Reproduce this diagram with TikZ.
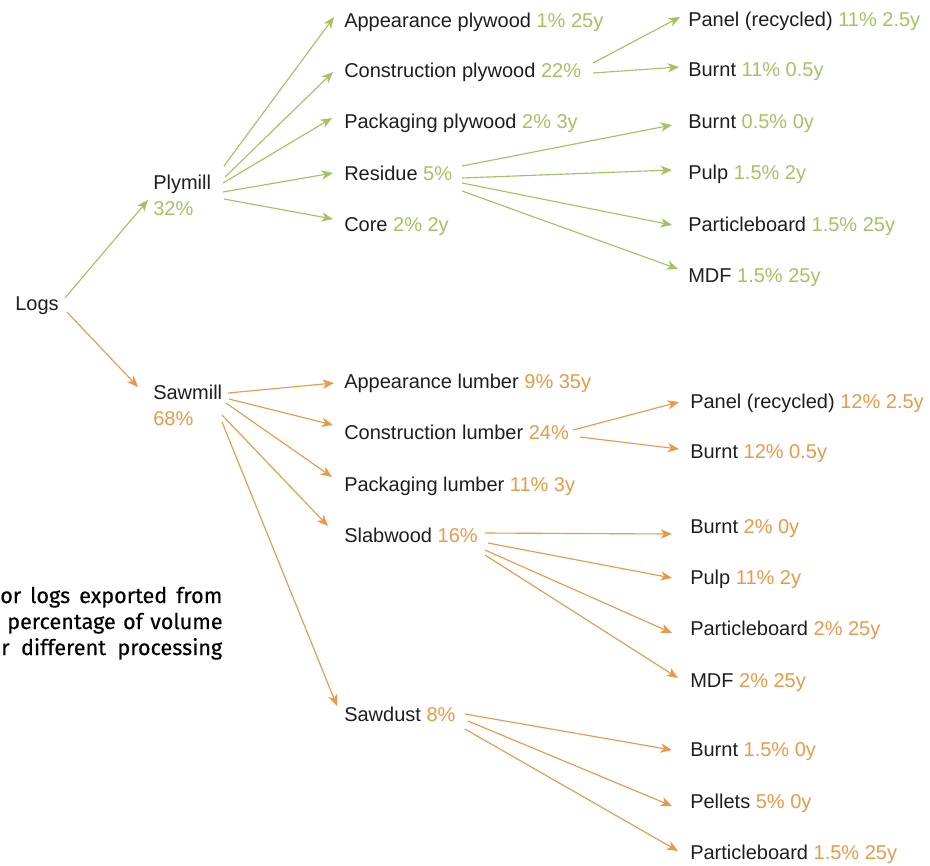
\documentclass[tikz,border=0pt]{standalone}
\usepackage{fontspec}
\setmainfont{Liberation Sans}
\newfontfamily\capfont[FakeBold=0.35]{Fira Sans}
\usetikzlibrary{arrows.meta,calc}
\definecolor{gr}{HTML}{A3C264}
\definecolor{og}{HTML}{E8994A}
\definecolor{tx}{HTML}{1E1E1E}
\begin{document}
\begin{tikzpicture}[x=0.75pt,y=-0.75pt,
  lbl/.style={anchor=base west,inner sep=0pt,text=tx,font=\fontsize{15}{18}\selectfont},
  captxt/.style={anchor=base west,inner sep=0pt,text=black,align=left,font=\capfont\fontsize{16.2}{18}\selectfont},
  tipstyle/.style={-{Stealth[length=8.5pt,width=7pt,inset=2.5pt]}},
  garr/.style={draw=gr,line width=0.85pt,tipstyle},
  oarr/.style={draw=og,line width=0.85pt,tipstyle}]
\useasboundingbox (0,0) rectangle (930,865);

% root
\node[lbl] (logs) at (15,310) {Logs};
\node[lbl] (ply) at (153,189) {Plymill};
\node[lbl,text=gr] (plyp) at (153,215) {32\%};
\node[lbl] (saw) at (153,399) {Sawmill};
\node[lbl,text=og] (sawp) at (153,425) {68\%};

% green level 2
\node[lbl] (appply) at (344,27) {Appearance plywood \textcolor{gr}{1\% 25y}};
\node[lbl] (conply) at (344,77) {Construction plywood \textcolor{gr}{22\%}};
\node[lbl] (packply) at (344,128) {Packaging plywood \textcolor{gr}{2\% 3y}};
\node[lbl] (res) at (344,180) {Residue \textcolor{gr}{5\%}};
\node[lbl] (core) at (344,231) {Core \textcolor{gr}{2\% 2y}};

% green level 3
\node[lbl] (panel1) at (688,26) {Panel (recycled) \textcolor{gr}{11\% 2.5y}};
\node[lbl] (burnt1) at (688,76) {Burnt \textcolor{gr}{11\% 0.5y}};
\node[lbl] (burnt2) at (688,128) {Burnt \textcolor{gr}{0.5\% 0y}};
\node[lbl] (pulp1) at (688,179) {Pulp \textcolor{gr}{1.5\% 2y}};
\node[lbl] (pb1) at (688,231) {Particleboard \textcolor{gr}{1.5\% 25y}};
\node[lbl] (mdf1) at (688,282) {MDF \textcolor{gr}{1.5\% 25y}};

% orange level 2
\node[lbl] (applum) at (344,388) {Appearance lumber \textcolor{og}{9\% 35y}};
\node[lbl] (conlum) at (344,439) {Construction lumber \textcolor{og}{24\%}};
\node[lbl] (packlum) at (344,491) {Packaging lumber \textcolor{og}{11\% 3y}};
\node[lbl] (slab) at (344,542) {Slabwood \textcolor{og}{16\%}};
\node[lbl] (sawd) at (344,721) {Sawdust \textcolor{og}{8\%}};

% orange level 3
\node[lbl] (panel2) at (690,408) {Panel (recycled) \textcolor{og}{12\% 2.5y}};
\node[lbl] (burnt3) at (690,458) {Burnt \textcolor{og}{12\% 0.5y}};
\node[lbl] (burnt4) at (690,533) {Burnt \textcolor{og}{2\% 0y}};
\node[lbl] (pulp2) at (690,584) {Pulp \textcolor{og}{11\% 2y}};
\node[lbl] (pb2) at (690,635) {Particleboard \textcolor{og}{2\% 25y}};
\node[lbl] (mdf2) at (690,687) {MDF \textcolor{og}{2\% 25y}};
\node[lbl] (burnt5) at (690,756) {Burnt \textcolor{og}{1.5\% 0y}};
\node[lbl] (pellets) at (690,808) {Pellets \textcolor{og}{5\% 0y}};
\node[lbl] (pb3) at (690,859) {Particleboard \textcolor{og}{1.5\% 25y}};

% caption (cut at left edge)
\node[captxt,text width=166.5pt] (cap1) at (0,603) {or\hfill logs\hfill exported\hfill from};
\node[captxt,text width=161.5pt] (cap2) at (7,629) {percentage\hfill of\hfill volume};
\node[captxt,text width=165.7pt] (cap3) at (1,655) {r\hfill different\hfill processing};

% arrows from logs
\draw[garr] ($(logs.base west)+(50,-12)$) -- ($(ply.base west)+(-5,11)$);
\draw[oarr] ($(logs.base west)+(52,2)$) -- ($(saw.base west)+(-15,-12)$);

% plymill
\draw[garr] ($(ply.base west)+(71,-23)$) -- ($(appply.base west)+(-10,-10)$);
\draw[garr] ($(ply.base west)+(72,-12)$) -- ($(conply.base west)+(-11,-5)$);
\draw[garr] ($(ply.base west)+(70,-6)$) -- ($(packply.base west)+(-12,-10)$);
\draw[garr] ($(ply.base west)+(70,3)$) -- ($(res.base west)+(-11,-7)$);
\draw[garr] ($(ply.base west)+(71,10)$) -- ($(core.base west)+(-11,-12)$);

% construction plywood
\draw[garr] ($(conply.base west)+(249,-14)$) -- ($(panel1.base west)+(-8,-9)$);
\draw[garr] ($(conply.base west)+(249,-4)$) -- ($(burnt1.base west)+(-9,-9)$);

% residue
\draw[garr] ($(res.base west)+(118,-14)$) -- ($(burnt2.base west)+(-16,-3)$);
\draw[garr] ($(res.base west)+(118,-2)$) -- ($(pulp1.base west)+(-16,-9)$);
\draw[garr] ($(res.base west)+(118,3)$) -- ($(pb1.base west)+(-16,-6)$);
\draw[garr] ($(res.base west)+(118,11)$) -- ($(mdf1.base west)+(-10,-13)$);

% sawmill
\draw[oarr] ($(saw.base west)+(75,-6)$) -- ($(applum.base west)+(-10,-5)$);
\draw[oarr] ($(saw.base west)+(76,0)$) -- ($(conlum.base west)+(-11,-14)$);
\draw[oarr] ($(saw.base west)+(73,4)$) -- ($(packlum.base west)+(-12,-14)$);
\draw[oarr] ($(saw.base west)+(69,16)$) -- ($(slab.base west)+(-16,-16)$);
\draw[oarr] ($(saw.base west)+(69,23)$) -- ($(sawd.base west)+(-7,-15)$);

% construction lumber
\draw[oarr] ($(conlum.base west)+(229,-9)$) -- ($(panel2.base west)+(-11,-6)$);
\draw[oarr] ($(conlum.base west)+(236,-2)$) -- ($(burnt3.base west)+(-11,-9)$);

% slabwood
\draw[oarr] ($(slab.base west)+(141,-9)$) -- ($(burnt4.base west)+(-18,1)$);
\draw[oarr] ($(slab.base west)+(144,1)$) -- ($(pulp2.base west)+(-18,-6)$);
\draw[oarr] ($(slab.base west)+(141,8)$) -- ($(pb2.base west)+(-18,-2)$);
\draw[oarr] ($(slab.base west)+(141,13)$) -- ($(mdf2.base west)+(-12,-9)$);

% sawdust
\draw[oarr] ($(sawd.base west)+(121,-7)$) -- ($(burnt5.base west)+(-18,-6)$);
\draw[oarr] ($(sawd.base west)+(124,0)$) -- ($(pellets.base west)+(-18,-2)$);
\draw[oarr] ($(sawd.base west)+(121,8)$) -- ($(pb3.base west)+(-12,-8)$);
\end{tikzpicture}
\end{document}
